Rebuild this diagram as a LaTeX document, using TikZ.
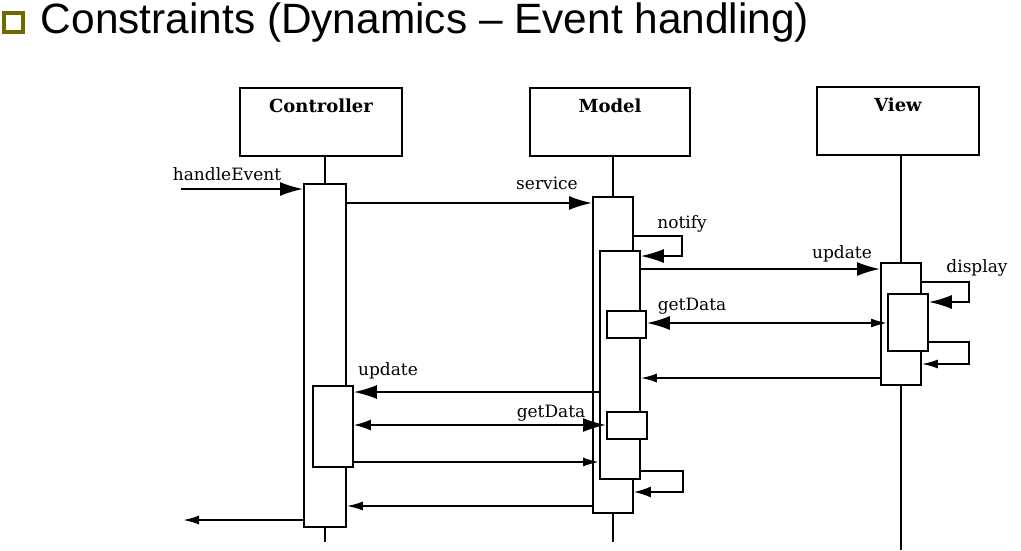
\documentclass[tikz,border=0pt]{standalone}
\usepackage{fontspec}
\newfontfamily\titlefont{Liberation Sans}
\newfontfamily\diagfont{DejaVu Serif}
\usepackage{xcolor}
\usepackage{tikz}
\usetikzlibrary{positioning,arrows.meta,calc}
\definecolor{bulletolive}{RGB}{112,104,0}

\tikzset{
  msgbig/.tip={Latex[length=23pt,width=14pt]},
  msgmid/.tip={Latex[length=17pt,width=11pt]},
  msgsmall/.tip={Latex[length=16pt,width=9pt]}
}

\begin{document}
\begin{tikzpicture}[x=1pt,y=-1pt,line width=1.8pt,
    obj/.style={draw, minimum width=162pt, minimum height=68pt},
    objname/.style={font=\diagfont\fontsize{18}{22}\selectfont\bfseries, anchor=north, yshift=-7pt},
    act/.style={draw, fill=white, anchor=north west, inner sep=0pt, minimum width=40pt},
    msg/.style={font=\diagfont\fontsize{17}{21}\selectfont, anchor=base}]
    \useasboundingbox (0,0) rectangle (1021,550);

    \node[draw=bulletolive, line width=4pt, minimum size=19pt, inner sep=0pt] (bullet) at (13.5,22) {};
    \node[font=\titlefont\fontsize{42.4}{50}\selectfont, anchor=base west, inner sep=0pt] (title) at (40,33) {Constraints (Dynamics – Event handling)};

    \node[obj] (ctrl) at (321,122) {};
    \node[objname] (ctrlname) at (ctrl.north) {Controller};
    \node[obj, minimum width=160pt] (model) at (610,122) {};
    \node[objname] (modelname) at (model.north) {Model};
    \node[obj] (view) at (898,121) {};
    \node[objname] (viewname) at (view.north) {View};

    \node[act, minimum width=42pt, minimum height=343pt] (ctrlA) at (303,183) {};
    \node[act, minimum height=81pt] (ctrlF) at (312,385) {};
    \node[act, minimum height=316pt] (mdlA) at (592,196) {};
    \node[act, minimum height=228pt] (mdlB) at (599,250) {};
    \node[act, minimum width=39pt, minimum height=27pt] (mdlE) at (606,310) {};
    \node[act, minimum height=27pt] (mdlG) at (606,411) {};
    \node[act, minimum height=122pt] (viewC) at (880,262) {};
    \node[act, minimum height=57pt] (viewD) at (887,293) {};

    \draw (ctrlA.north |- ctrl.south) -- (ctrlA.north);
    \draw (mdlA.north |- model.south) -- (mdlA.north);
    \draw (viewC.north |- view.south) -- (viewC.north);
    \draw (ctrlA.south) -- ++(0,14);
    \draw (mdlA.south) -- ++(0,28);
    \draw (viewC.south) -- ++(0,164);

    \coordinate (evIn) at (181,189);
    \coordinate (evOut) at (183,520);
    \draw[-msgbig] (evIn) -- (evIn -| ctrlA.west);
    \node[msg] (lblhandle) at (227,180) {handleEvent};
    \draw[-msgbig] (ctrlA.east |- 0,203) -- (mdlA.west |- 0,203);
    \node[msg] (lblservice) at (547,189) {service};
    \draw[-msgbig] (mdlA.east |- 0,236) -- ++(48,0) |- (mdlB.east |- 0,256);
    \node[msg] (lblnotify) at (682,228) {notify};
    \draw[-msgbig] (mdlB.east |- 0,269) -- (viewC.west |- 0,269);
    \node[msg] (lblupdate) at (842,258) {update};
    \draw[-msgbig] (viewC.east |- 0,282) -- ++(47,0) |- (viewD.east |- 0,302);
    \node[msg] (lbldisplay) at (977,272) {display};
    \draw[msgbig-msgsmall] (mdlE.east |- 0,323) -- (viewD.west |- 0,323);
    \node[msg] (lblget) at (692,310) {getData};
    \draw[-msgsmall] (viewD.east |- 0,342) -- ++(40,0) |- (viewC.east |- 0,364);
    \draw[-msgsmall] (viewC.west |- 0,378) -- (mdlB.east |- 0,378);
    \draw[-msgbig] (mdlB.west |- 0,392) -- (ctrlF.east |- 0,392);
    \node[msg] (lblupdback) at (388,375) {update};
    \draw[msgmid-msgbig] (ctrlF.east |- 0,425) -- (mdlG.west |- 0,425);
    \node[msg] (lblgetback) at (551,417) {getData};
    \draw[-msgsmall] (ctrlF.east |- 0,462) -- (mdlB.west |- 0,462);
    \draw[-msgmid] (mdlB.east |- 0,471) -- ++(42,0) |- (mdlA.east |- 0,492);
    \draw[-msgsmall] (mdlA.west |- 0,506) -- (ctrlA.east |- 0,506);
    \draw[-msgsmall] (ctrlA.west |- 0,520) -- (evOut);
\end{tikzpicture}
\end{document}
